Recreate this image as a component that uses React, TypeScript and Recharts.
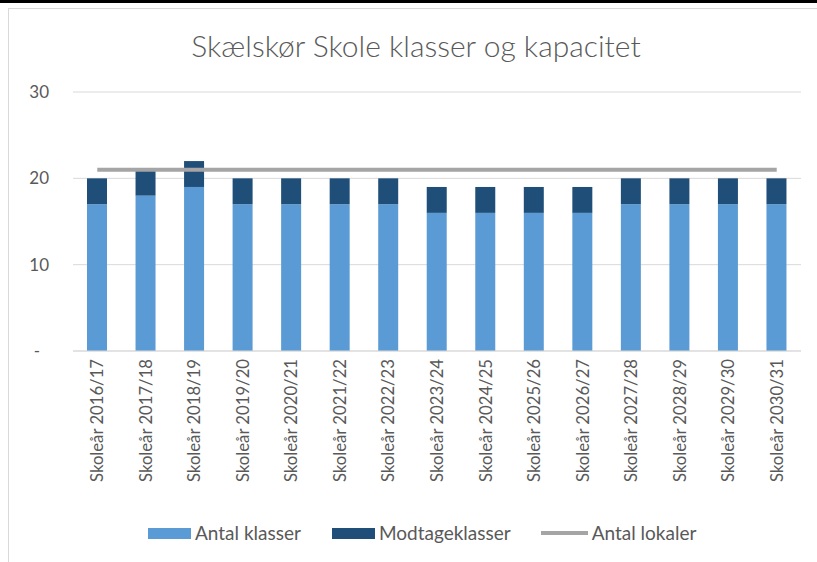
import React from 'react';
import { ComposedChart, Bar, Line, XAxis, YAxis, CartesianGrid, Legend } from 'recharts';

const categories = [
  'Skoleår 2016/17', 'Skoleår 2017/18', 'Skoleår 2018/19', 'Skoleår 2019/20', 'Skoleår 2020/21',
  'Skoleår 2021/22', 'Skoleår 2022/23', 'Skoleår 2023/24', 'Skoleår 2024/25', 'Skoleår 2025/26',
  'Skoleår 2026/27', 'Skoleår 2027/28', 'Skoleår 2028/29', 'Skoleår 2029/30', 'Skoleår 2030/31',
];
const antalKlasser = [17, 18, 19, 17, 17, 17, 17, 16, 16, 16, 16, 17, 17, 17, 17];
const modtageklasser = [3, 3, 3, 3, 3, 3, 3, 3, 3, 3, 3, 3, 3, 3, 3];
const antalLokaler = [21, 21, 21, 21, 21, 21, 21, 21, 21, 21, 21, 21, 21, 21, 21];
const yTicks = [0, 10, 20, 30];
const seriesNames = ['Antal klasser', 'Modtageklasser', 'Antal lokaler'];
const chartTitle = 'Skælskør Skole klasser og kapacitet';

const data = categories.map((c, i) => ({
  name: c,
  klasser: antalKlasser[i],
  modtage: modtageklasser[i],
  lokaler: antalLokaler[i],
}));

const FONT = 'Lato, "Open Sans", sans-serif';
const TEXT = '#595959';
const LIGHT = '#5B9BD5';
const DARK = '#1F4E79';
const GREY = '#A5A5A5';

const YTick = (props: any) => {
  const { x, y, payload } = props;
  const v = payload.value;
  return (
    <text x={v === 0 ? x - 9 : x} y={y} dy="0.36em" textAnchor="end" fill={TEXT} fontSize={17} fontFamily={FONT}>
      {v === 0 ? '-' : v}
    </text>
  );
};

const XTick = (props: any) => {
  const { x, y, payload } = props;
  return (
    <text
      x={x}
      y={y}
      dy="0.36em"
      textAnchor="end"
      transform={`rotate(-90, ${x}, ${y})`}
      fill={TEXT}
      fontSize={16.7}
      fontFamily={FONT}
    >
      {payload.value}
    </text>
  );
};

const LegendContent = () => {
  const item = (swatch: React.ReactNode, label: string, ml: number) => (
    <div style={{ display: 'flex', alignItems: 'center', marginLeft: ml }}>
      {swatch}
      <span style={{ marginLeft: 4, fontSize: 19, color: TEXT, fontFamily: FONT, lineHeight: '24px' }}>{label}</span>
    </div>
  );
  return (
    <div style={{ display: 'flex', alignItems: 'center', paddingLeft: 148 }}>
      {item(<div style={{ width: 43, height: 11, background: LIGHT }} />, seriesNames[0], 0)}
      {item(<div style={{ width: 43, height: 11, background: DARK }} />, seriesNames[1], 31)}
      {item(<div style={{ width: 47, height: 4, background: GREY }} />, seriesNames[2], 30)}
    </div>
  );
};

export default function App() {
  return (
    <div style={{ position: 'absolute', left: 0, top: 0, width: 817, height: 562, background: '#fff', overflow: 'hidden' }}>
      <div style={{ position: 'absolute', left: 0, top: 0, width: 817, height: 3, background: '#000' }} />
      <div
        style={{
          position: 'absolute',
          left: 8,
          top: 8,
          width: 830,
          height: 580,
          borderLeft: '1px solid #D9D9D9',
          borderTop: '1px solid #D9D9D9',
        }}
      />
      <div
        style={{
          position: 'absolute',
          left: 0,
          top: 27,
          width: 832,
          textAlign: 'center',
          fontSize: 30,
          lineHeight: '36px',
          color: TEXT,
          fontFamily: FONT,
          fontWeight: 300,
        }}
      >
        {chartTitle}
      </div>
      <div style={{ position: 'absolute', left: 0, top: 0 }}>
        <ComposedChart
          width={817}
          height={562}
          data={data}
          margin={{ top: 92, right: 16, bottom: 61, left: 0 }}
          barCategoryGap="29%"
        >
          <CartesianGrid vertical={false} stroke="#D9D9D9" strokeWidth={1} />
          <XAxis
            dataKey="name"
            interval={0}
            height={150}
            tickLine={false}
            axisLine={{ stroke: '#D9D9D9' }}
            tick={<XTick />}
          />
          <YAxis
            width={73}
            domain={[0, 30]}
            ticks={yTicks}
            tickLine={false}
            axisLine={false}
            tickMargin={18}
            tick={<YTick />}
          />
          <Bar dataKey="klasser" name={seriesNames[0]} stackId="a" fill={LIGHT} barSize={20} isAnimationActive={false} />
          <Bar dataKey="modtage" name={seriesNames[1]} stackId="a" fill={DARK} barSize={20} isAnimationActive={false} />
          <Line
            dataKey="lokaler"
            name={seriesNames[2]}
            type="linear"
            stroke={GREY}
            strokeWidth={4}
            dot={false}
            activeDot={false}
            isAnimationActive={false}
          />
          <Legend
            layout="horizontal"
            verticalAlign="middle"
            content={<LegendContent />}
            wrapperStyle={{ top: 521, left: 0, width: 817, height: 24 }}
          />
        </ComposedChart>
      </div>
    </div>
  );
}
